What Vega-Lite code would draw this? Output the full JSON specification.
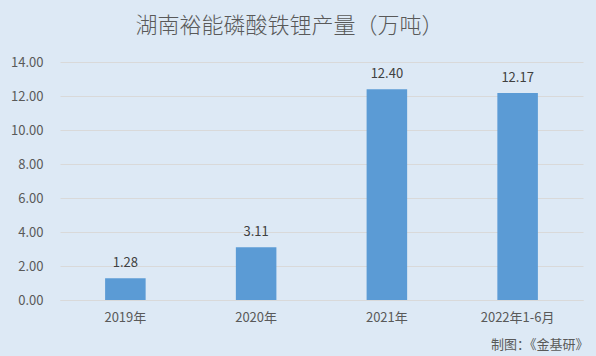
{
  "$schema": "https://vega.github.io/schema/vega-lite/v6.json",
  "autosize": {"type": "none"},
  "width": 523,
  "height": 238,
  "padding": {"left": 60, "top": 62, "right": 13, "bottom": 56},
  "background": "#dde9f5",
  "title": {
    "text": "湖南裕能磷酸铁锂产量（万吨）",
    "font": "Noto Sans CJK SC",
    "fontSize": 22,
    "fontWeight": 300,
    "color": "#595959",
    "anchor": "middle",
    "dx": -32,
    "offset": 18
  },
  "data": {
    "values": [
      {"year": "2019年", "value": 1.28},
      {"year": "2020年", "value": 3.11},
      {"year": "2021年", "value": 12.40},
      {"year": "2022年1-6月", "value": 12.17}
    ]
  },
  "config": {
    "view": {"stroke": null},
    "axis": {"labelFont": "Noto Sans CJK SC", "titleFont": "Noto Sans CJK SC"}
  },
  "encoding": {
    "x": {
      "field": "year",
      "type": "nominal",
      "sort": null,
      "scale": {"paddingInner": 0.69, "paddingOuter": 0.345},
      "axis": {
        "title": "制图：《金基研》",
        "titleAnchor": "end",
        "titleAlign": "right",
        "titleFontSize": 13,
        "titleFontWeight": "normal",
        "titleColor": "#595959",
        "titlePadding": 14,
        "titleX": 528,
        "labelAngle": 0,
        "labelFontSize": 13,
        "labelColor": "#595959",
        "labelPadding": 11,
        "ticks": false,
        "domainColor": "#d9d9d9",
        "domainWidth": 1
      }
    },
    "y": {
      "field": "value",
      "type": "quantitative",
      "scale": {"domain": [0, 14]},
      "axis": {
        "title": null,
        "values": [0, 2, 4, 6, 8, 10, 12, 14],
        "format": ".2f",
        "labelFontSize": 13,
        "labelColor": "#595959",
        "labelPadding": 17,
        "ticks": false,
        "domain": false,
        "gridColor": "#d9d9d9",
        "gridWidth": 1
      }
    }
  },
  "layer": [
    {"mark": {"type": "bar", "color": "#5b9bd5"}},
    {
      "mark": {
        "type": "text",
        "baseline": "bottom",
        "dy": -8,
        "font": "Noto Sans CJK SC",
        "fontSize": 13,
        "color": "#404040"
      },
      "encoding": {"text": {"field": "value", "type": "quantitative", "format": ".2f"}}
    }
  ]
}
